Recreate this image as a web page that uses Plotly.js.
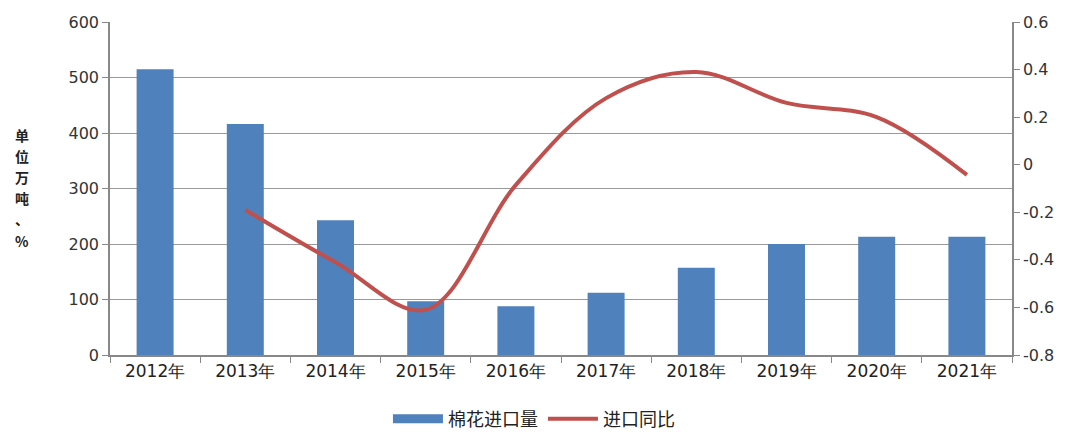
<!DOCTYPE html>
<html>
<head>
<meta charset="utf-8">
<script src="https://cdn.plot.ly/plotly-3.0.1.min.js"></script>
<style>html,body{margin:0;padding:0;background:#fff;}#chart{width:1078px;height:432px;}</style>
</head>
<body>
<div id="chart"></div>
<script>
const years = ["2012年","2013年","2014年","2015年","2016年","2017年","2018年","2019年","2020年","2021年"];
const importVolume = [515, 416, 243, 97, 88, 112, 157, 200, 213, 213];
const lineYears = ["2013年","2014年","2015年","2016年","2017年","2018年","2019年","2020年","2021年"];
const yoyChange = [-0.19, -0.41, -0.61, -0.085, 0.28, 0.39, 0.26, 0.2, -0.043];
const leftTicks = [0, 100, 200, 300, 400, 500, 600];
const rightTicks = [-0.8, -0.6, -0.4, -0.2, 0, 0.2, 0.4, 0.6];
const rightTickText = ["-0.8", "-0.6", "-0.4", "-0.2", "0", "0.2", "0.4", "0.6"];
const unitChars = ["单", "位", "万", "吨", "、", "%"];

const font = "DejaVu Sans, Verdana, sans-serif";
const cjk = "Noto Sans CJK SC, sans-serif";
const barColor = "#4F81BD";

const traces = [
  {type: "bar", name: "棉花进口量", x: years, y: importVolume,
   marker: {color: barColor}, width: 0.41, yaxis: "y", showlegend: false},
  {type: "scatter", mode: "lines", name: "棉花进口量", x: [null], y: [null],
   line: {color: barColor, width: 9}, yaxis: "y", showlegend: true, hoverinfo: "skip"},
  {type: "scatter", mode: "lines", name: "进口同比", x: lineYears, y: yoyChange,
   line: {color: "#C0504D", width: 4, shape: "spline", smoothing: 1}, yaxis: "y2"}
];

// vertical unit label, one character per annotation (pixel rows in the figure)
const plotTop = 22, plotH = 333, plotL = 110, plotW = 902;
const charRows = [135, 156, 177, 198, 219, 241];
const annotations = unitChars.map((c, i) => ({
  text: c, xref: "paper", yref: "paper",
  x: (22 - plotL) / plotW, y: 1 - (charRows[i] - plotTop) / plotH,
  xanchor: "center", yanchor: "middle", showarrow: false, borderpad: 0,
  font: {family: cjk, size: 14, color: "#222", weight: "bold"}
}));

const layout = {
  width: 1078, height: 432,
  margin: {l: 110, r: 66, t: 22, b: 77, autoexpand: false},
  paper_bgcolor: "#fff", plot_bgcolor: "#fff",
  showlegend: true,
  legend: {orientation: "h", x: 0.47, xanchor: "center", xref: "paper",
           y: 0.03, yanchor: "middle", yref: "container",
           font: {family: cjk, size: 18, color: "#222"}, itemwidth: 50, tracegroupgap: 0},
  xaxis: {type: "category", categoryorder: "array", categoryarray: years,
          tickson: "boundaries", ticks: "outside", ticklen: 6, tickcolor: "#888",
          showline: true, linecolor: "#888", linewidth: 1.5,
          tickfont: {family: font, size: 17, color: "#222"}, showgrid: false},
  yaxis: {range: [0, 600], tickvals: leftTicks, ticks: "outside", ticklen: 6, tickcolor: "#888",
          showline: true, linecolor: "#888", linewidth: 1.5,
          showgrid: true, gridcolor: "#999", gridwidth: 1, zeroline: false,
          tickfont: {family: font, size: 16, color: "#333"}},
  yaxis2: {range: [-0.8, 0.6], tickvals: rightTicks, ticktext: rightTickText,
           overlaying: "y", side: "right",
           ticks: "outside", ticklen: 6, tickcolor: "#888",
           showline: true, linecolor: "#888", linewidth: 1.5,
           showgrid: false, zeroline: false,
           tickfont: {family: font, size: 16, color: "#333"}},
  annotations: annotations
};

Plotly.newPlot("chart", traces, layout, {displayModeBar: false, responsive: false});
</script>
</body>
</html>
